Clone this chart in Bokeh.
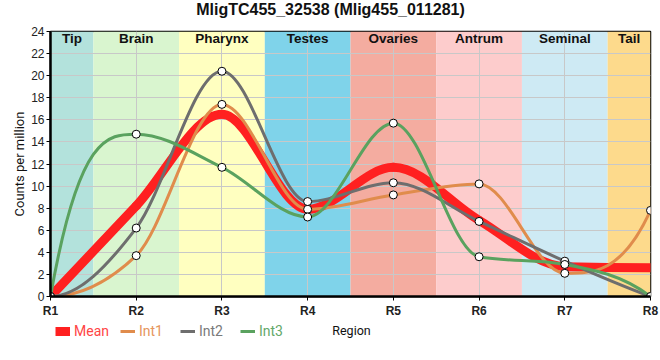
from bokeh.plotting import figure
from bokeh.layouts import column
from bokeh.models import (ColumnDataSource, Range1d, FixedTicker, Legend,
                          LegendItem, Label)
from bokeh.core.properties import value
from bokeh.embed import file_html
from bokeh.resources import INLINE

# ---------------- data ----------------
title_text = "MligTC455_32538 (Mlig455_011281)"
regions = ["R1", "R2", "R3", "R4", "R5", "R6", "R7", "R8"]
band_names = ["Tip", "Brain", "Pharynx", "Testes", "Ovaries", "Antrum", "Seminal", "Tail"]
mean = [0, 8.2, 16.5, 7.9, 11.7, 6.9, 2.7, 2.6]
int1 = [0, 3.7, 17.4, 7.9, 9.2, 10.2, 2.1, 7.8]
int2 = [0, 6.2, 20.4, 8.6, 10.3, 6.8, 3.2, 0]
int3 = [0, 14.7, 11.7, 7.2, 15.7, 3.6, 2.9, 0]
series_names = ["Mean", "Int1", "Int2", "Int3"]

band_colors = ["#b3e2dc", "#d9f5cf", "#ffffc0", "#7fd3ea",
               "#f4aca0", "#fdcccc", "#ceeaf4", "#fdda8c"]
line_colors = ["#ff2020", "#e08c4c", "#6e6e6e", "#5aa25f"]
text_colors = ["#ff4545", "#e6965c", "#7a7a7a", "#64a869"]
line_widths = [9, 3, 3, 3]

xs = list(range(len(regions)))
xmax = xs[-1]
YMAX = 24
NAN = float("nan")


def tangents(y):
    n = len(y)
    s = [y[i + 1] - y[i] for i in range(n - 1)]
    m = [0.0] * n
    for i in range(1, n - 1):
        s0, s1 = s[i - 1], s[i]
        if s0 * s1 <= 0:
            m[i] = 0.0
        else:
            p_ = (s0 + s1) / 2
            sg = 1 if s0 > 0 else -1
            m[i] = sg * min(2 * abs(s0), 2 * abs(s1), abs(p_))
    m[0] = 3 * s[0] - 2 * m[1]
    if m[0] * s[0] <= 0:
        m[0] = 0.0
    m[-1] = 3 * s[-1] - 2 * m[-2]
    if m[-1] * s[-1] <= 0:
        m[-1] = 0.0
    return m


def curve_source(y):
    m = tangents(y)
    d = dict(x0=[], y0=[], x1=[], y1=[], cx0=[], cy0=[], cx1=[], cy1=[])
    for i in range(len(y) - 1):
        h = xs[i + 1] - xs[i]
        d["x0"].append(xs[i]); d["y0"].append(y[i])
        d["x1"].append(xs[i + 1]); d["y1"].append(y[i + 1])
        d["cx0"].append(xs[i] + h / 3); d["cy0"].append(y[i] + m[i] * h / 3)
        d["cx1"].append(xs[i + 1] - h / 3); d["cy1"].append(y[i + 1] - m[i + 1] * h / 3)
    return ColumnDataSource(d)


def strip(height):
    # small figure whose frame lines up with the chart frame (page pixels 50..650)
    f = figure(width=660, height=height, output_backend="svg", toolbar_location=None,
               x_range=Range1d(50, 650), y_range=Range1d(0, height),
               x_axis_type=None, y_axis_type=None,
               min_border_left=0, min_border_right=0, min_border_top=0,
               min_border_bottom=0)
    f.grid.visible = False
    f.outline_line_color = None
    return f


# ---------------- title strip ----------------
top = strip(20)
top.add_layout(Label(x=330, y=11.5, text=title_text, text_align="center",
                     text_baseline="middle", text_font="Liberation Sans",
                     text_font_size="16px", text_font_style="bold",
                     text_color="#111111"))

# ---------------- main chart ----------------
p = figure(width=660, height=300, output_backend="svg", toolbar_location=None,
           x_range=Range1d(xs[0], xmax), y_range=Range1d(0, YMAX),
           min_border_left=50, min_border_right=10, min_border_top=11,
           min_border_bottom=20)

bl = [max(i - 0.5, xs[0]) for i in xs]
br = [min(i + 0.5, xmax) for i in xs]
bsrc = ColumnDataSource(dict(left=bl, right=br, color=band_colors,
                             cx=[(a + b) / 2 for a, b in zip(bl, br)],
                             name=band_names))
p.quad(left="left", right="right", bottom=0, top=YMAX, fill_color="color",
       line_color=None, source=bsrc, level="image")
p.text(x="cx", y=YMAX, text="name", source=bsrc, text_align="center",
       text_baseline="top", y_offset=-1, text_font=value("Liberation Sans"),
       text_font_style="bold", text_font_size="13.5px", text_color="#111111")

curves = []
for ser, col, lw in zip((mean, int1, int2, int3), line_colors, line_widths):
    curves.append(p.bezier(x0="x0", y0="y0", x1="x1", y1="y1", cx0="cx0", cy0="cy0",
                           cx1="cx1", cy1="cy1", source=curve_source(ser),
                           line_color=col, line_width=lw, line_cap="round"))

for ser in (int1, int2, int3):
    p.scatter(xs, ser, size=8, fill_color="white", line_color="black", line_width=1)

p.xaxis.ticker = FixedTicker(ticks=xs)
p.xaxis.major_label_overrides = {i: lab for i, lab in zip(xs, regions)}
p.yaxis.ticker = FixedTicker(ticks=list(range(0, YMAX + 1, 2)))
p.yaxis.axis_label = "Counts per million"
for ax in (p.xaxis[0], p.yaxis[0]):
    ax.axis_line_width = 2.5
    ax.axis_line_color = "black"
    ax.major_tick_out = 4
    ax.major_tick_in = 0
    ax.minor_tick_line_color = None
    ax.major_tick_line_color = "black"
    ax.major_label_text_font = "Liberation Sans"
    ax.major_label_text_color = "#222222"
    ax.axis_label_text_font = "Roboto"
    ax.axis_label_text_font_style = "normal"
    ax.axis_label_text_color = "#111111"
p.xaxis.major_label_text_font_size = "12px"
p.xaxis.major_label_text_font_style = "bold"
p.xaxis.major_label_standoff = 3
p.yaxis.major_label_text_font_size = "12px"
p.yaxis.major_label_standoff = 2
p.yaxis.axis_label_text_font_size = "13px"
p.yaxis.axis_label_standoff = 1

p.xgrid.ticker = FixedTicker(ticks=xs)
p.grid.grid_line_color = "#c8c8c8"
p.grid.grid_line_width = 1
p.outline_line_color = "black"
p.outline_line_width = 1.5
p.background_fill_color = "white"

# ---------------- legend strip with the x-axis title ----------------
leg = strip(40)
for lab, col, tcol, lw, lx in zip(series_names, line_colors, text_colors,
                                  line_widths, (5, 70, 130, 190)):
    r = leg.line(x=[NAN], y=[NAN], line_color=col, line_width=lw)
    lg = Legend(items=[LegendItem(label=lab, renderers=[r])],
                location=(lx, 21), orientation="horizontal",
                padding=0, margin=0, spacing=0, label_standoff=4,
                glyph_width=15, glyph_height=16,
                label_text_font="Roboto", label_text_font_size="14px",
                label_text_color=tcol, border_line_alpha=0,
                background_fill_alpha=0)
    leg.add_layout(lg, "center")

leg.add_layout(Label(x=351, y=30, text="Region", text_align="center",
                     text_baseline="middle", text_font="Roboto",
                     text_font_size="12.5px", text_color="#111111"))

layout = column(top, p, leg, spacing=0)
open("out.html", "w").write(file_html(layout, INLINE))
